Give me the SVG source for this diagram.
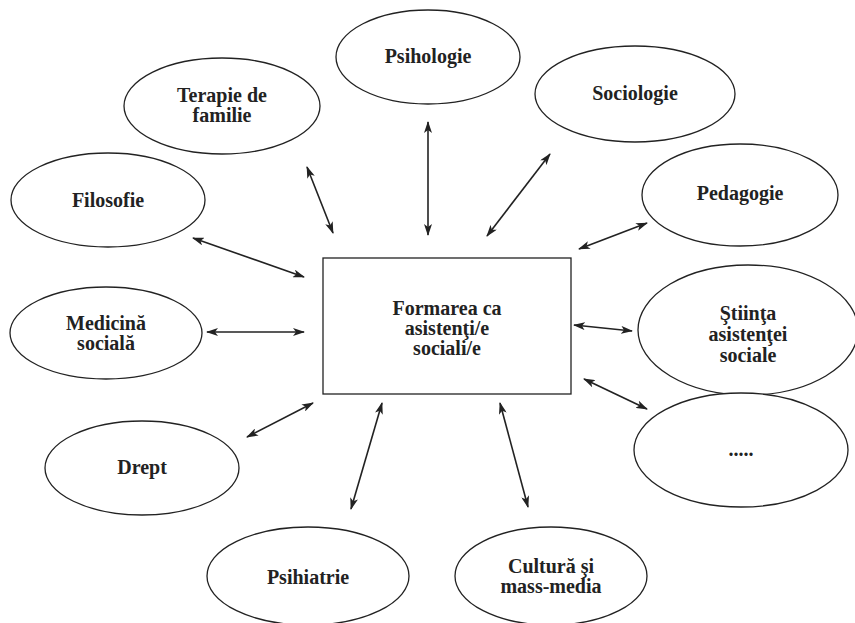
<svg xmlns="http://www.w3.org/2000/svg" width="855" height="623" viewBox="0 0 855 623">
<defs>
<style>
.n{fill:#fff;stroke:#222;stroke-width:1.3}
.t{font-family:"Liberation Serif",serif;font-weight:bold;font-size:20px;fill:#222;text-anchor:middle}
.c{stroke:#222;stroke-width:1.6;fill:none;marker-start:url(#ah);marker-end:url(#ah)}
</style>
<marker id="ah" viewBox="0 0 12 8" refX="11" refY="4" markerWidth="12" markerHeight="8" markerUnits="userSpaceOnUse" orient="auto-start-reverse">
<path d="M0,0 L12,4 L0,8 L3,4 Z" fill="#222"/>
</marker>
</defs>
<rect width="855" height="623" fill="#fff"/>
<g id="connectors">
<line class="c" x1="333" y1="233" x2="307" y2="167"/>
<line class="c" x1="304" y1="277" x2="193" y2="238"/>
<line class="c" x1="428" y1="235" x2="428" y2="122"/>
<line class="c" x1="487" y1="236" x2="550" y2="154"/>
<line class="c" x1="579" y1="249" x2="647" y2="223"/>
<line class="c" x1="304" y1="332" x2="207" y2="332"/>
<line class="c" x1="574" y1="325" x2="632" y2="331"/>
<line class="c" x1="584" y1="379" x2="647" y2="409"/>
<line class="c" x1="313" y1="403" x2="247" y2="437"/>
<line class="c" x1="382" y1="403" x2="351" y2="509"/>
<line class="c" x1="500" y1="403" x2="528" y2="507"/>
</g>
<g id="center">
<rect class="n" x="323" y="258" width="248" height="136"/>
<text class="t" x="447" y="315">Formarea ca</text>
<text class="t" x="447" y="335">asistenţi/e</text>
<text class="t" x="447" y="355">sociali/e</text>
</g>
<g id="psihologie">
<ellipse class="n" cx="428" cy="57" rx="92" ry="47"/>
<text class="t" x="428" y="63">Psihologie</text>
</g>
<g id="terapie">
<ellipse class="n" cx="222" cy="106" rx="98" ry="48"/>
<text class="t" x="222" y="102">Terapie de</text>
<text class="t" x="222" y="122">familie</text>
</g>
<g id="sociologie">
<ellipse class="n" cx="635" cy="94" rx="100" ry="48"/>
<text class="t" x="635" y="100">Sociologie</text>
</g>
<g id="filosofie">
<ellipse class="n" cx="108" cy="200" rx="97" ry="47"/>
<text class="t" x="108" y="207">Filosofie</text>
</g>
<g id="pedagogie">
<ellipse class="n" cx="740" cy="195" rx="98" ry="51"/>
<text class="t" x="740" y="200">Pedagogie</text>
</g>
<g id="medicina">
<ellipse class="n" cx="106" cy="333" rx="96" ry="46"/>
<text class="t" x="106" y="330">Medicină</text>
<text class="t" x="106" y="350">socială</text>
</g>
<g id="stiinta">
<ellipse class="n" cx="748" cy="330" rx="110" ry="65"/>
<text class="t" x="748" y="320">Ştiinţa</text>
<text class="t" x="748" y="341">asistenţei</text>
<text class="t" x="748" y="362">sociale</text>
</g>
<g id="drept">
<ellipse class="n" cx="142" cy="468" rx="97" ry="47"/>
<text class="t" x="142" y="474">Drept</text>
</g>
<g id="etc">
<ellipse class="n" cx="741" cy="450" rx="107" ry="57"/>
<text class="t" x="741" y="456">.....</text>
</g>
<g id="psihiatrie">
<ellipse class="n" cx="308" cy="576" rx="101" ry="49"/>
<text class="t" x="308" y="584">Psihiatrie</text>
</g>
<g id="cultura">
<ellipse class="n" cx="551" cy="576" rx="96" ry="49"/>
<text class="t" x="551" y="573">Cultură şi</text>
<text class="t" x="551" y="593">mass-media</text>
</g>
</svg>
